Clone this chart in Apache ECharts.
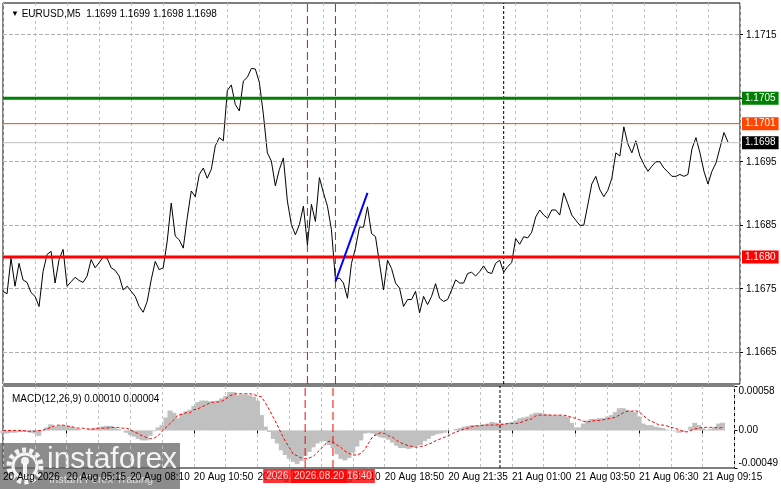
<!DOCTYPE html>
<html lang="en">
<head>
<meta charset="UTF-8"/>
<title>EURUSD,M5</title>
<script src="https://cdn.jsdelivr.net/npm/echarts@6/dist/echarts.min.js"></script>
<style>
    html, body {margin: 0; padding: 0; background: #fff;}
    #chart {width: 781px; height: 489px;}
</style>
</head>
<body>
<div id="chart"></div>
<script type="text/javascript">
// 10-minute samples of the M5 close line (k = 0 .. 181)
var priceClose = [
    1.16746, 1.16742, 1.16798, 1.16754, 1.16790, 1.16764, 1.16760, 1.16744, 1.16738, 1.16722,
    1.16777, 1.16804, 1.16809, 1.16759, 1.16796, 1.16812, 1.16754, 1.16761, 1.16768, 1.16763,
    1.16760, 1.16770, 1.16796, 1.16783, 1.16791, 1.16800, 1.16798, 1.16783, 1.16779, 1.16770,
    1.16748, 1.16754, 1.16746, 1.16738, 1.16722, 1.16713, 1.16730, 1.16764, 1.16793, 1.16780,
    1.16783, 1.16825, 1.16885, 1.16833, 1.16827, 1.16814, 1.16862, 1.16904, 1.16895, 1.16930,
    1.16940, 1.16924, 1.16938, 1.16975, 1.16988, 1.16983, 1.17062, 1.17071, 1.17040, 1.17030,
    1.17077, 1.17083, 1.17097, 1.17096, 1.17075, 1.17025, 1.16964, 1.16951, 1.16912, 1.16938,
    1.16956, 1.16888, 1.16851, 1.16835, 1.16851, 1.16880, 1.16819, 1.16883, 1.16856, 1.16925,
    1.16901, 1.16880, 1.16843, 1.16764, 1.16767, 1.16759, 1.16735, 1.16790, 1.16814, 1.16847,
    1.16847, 1.16879, 1.16837, 1.16832, 1.16790, 1.16748, 1.16795, 1.16782, 1.16759, 1.16751,
    1.16722, 1.16733, 1.16733, 1.16746, 1.16712, 1.16738, 1.16725, 1.16738, 1.16758, 1.16735,
    1.16730, 1.16733, 1.16748, 1.16764, 1.16759, 1.16759, 1.16774, 1.16776, 1.16770, 1.16777,
    1.16786, 1.16776, 1.16774, 1.16790, 1.16795, 1.16776, 1.16785, 1.16791, 1.16829, 1.16820,
    1.16832, 1.16830, 1.16839, 1.16863, 1.16874, 1.16866, 1.16861, 1.16874, 1.16874, 1.16866,
    1.16901, 1.16884, 1.16866, 1.16858, 1.16850, 1.16850, 1.16882, 1.16915, 1.16927, 1.16906,
    1.16895, 1.16905, 1.16924, 1.16964, 1.16959, 1.17005, 1.16978, 1.16964, 1.16983, 1.16959,
    1.16946, 1.16935, 1.16943, 1.16950, 1.16950, 1.16940, 1.16934, 1.16927, 1.16927, 1.16930,
    1.16927, 1.16930, 1.16970, 1.16988, 1.16964, 1.16935, 1.16915, 1.16935, 1.16948, 1.16972,
    1.16996, 1.16981
];

// MACD(12,26,9) main histogram and signal, in units of 0.00001
var macdHist = [
    -4, -4, -3, -3, -2, -2, -2, -3, -4, -7,
    0, 4, 8, 5, 6, 7, 6, 5, 3, 2,
    0, 0, 2, 3, 4, 5, 6, 6, 4, 2,
    0, -3, -6, -8, -11, -13, -13, -7, -1, 4,
    7, 17, 26, 23, 16, 22, 25, 27, 32, 37,
    39, 39, 38, 38, 39, 42, 45, 50, 50, 46,
    47, 47, 46, 44, 39, 20, 5, -2, -11, -17,
    -26, -32, -37, -41, -44, -40, -33, -28, -22, -17,
    -14, -14, -19, -23, -31, -37, -39, -36, -29, -21,
    -13, -4, -3, -4, -7, -9, -10, -12, -16, -20,
    -23, -23, -24, -22, -20, -19, -14, -11, -7, -5,
    -4, -3, -1, 0, 2, 3, 5, 6, 7, 7,
    7, 8, 9, 11, 10, 9, 9, 10, 11, 13,
    16, 17, 18, 21, 23, 23, 22, 21, 20, 20,
    20, 19, 18, 10, 4, 4, 9, 13, 15, 15,
    16, 16, 18, 20, 24, 29, 29, 27, 25, 24,
    18, 9, 7, 7, 5, 4, 3, 1, 0, -1,
    -3, -2, 0, 5, 10, 7, 3, 1, 2, 4,
    9, 10
];
var macdSignal = [
    0, 0, 0, 0, 0, 0, -1, -1, -1, 0,
    0, 2, 4, 6, 7, 7, 6, 5, 4, 3,
    3, 2, 2, 2, 3, 3, 3, 4, 4, 4,
    3, 3, 1, -2, -4, -7, -9, -11, -10, -7,
    -1, 4, 9, 14, 20, 21, 23, 23, 27, 28,
    31, 33, 36, 37, 37, 38, 41, 45, 47, 48,
    48, 48, 48, 47, 45, 44, 36, 27, 17, 7,
    -4, -14, -22, -31, -33, -36, -37, -36, -34, -29,
    -24, -18, -14, -15, -19, -22, -27, -30, -32, -32,
    -30, -25, -16, -8, -5, -3, -4, -7, -9, -13,
    -16, -18, -20, -21, -22, -21, -20, -18, -16, -13,
    -11, -9, -7, -4, -2, 0, 2, 3, 5, 6,
    6, 7, 7, 7, 7, 8, 8, 9, 9, 9,
    10, 12, 14, 15, 19, 20, 20, 20, 20, 20,
    20, 20, 19, 17, 16, 14, 12, 11, 12, 13,
    13, 14, 15, 16, 17, 20, 23, 25, 25, 26,
    24, 20, 15, 12, 10, 7, 7, 6, 4, 3,
    1, -1, -2, 0, 2, 3, 4, 4, 4, 4,
    3, 4
];

var timeLabels = ['20 Aug 2026', '20 Aug 05:15', '20 Aug 08:10', '20 Aug 10:50', '20 Aug 13:30', '20 Aug 16:10',
    '20 Aug 18:50', '20 Aug 21:35', '21 Aug 01:00', '21 Aug 03:50', '21 Aug 06:30', '21 Aug 09:15'];
var priceTicks = [1.1665, 1.1675, 1.1685, 1.1695, 1.1705, 1.1715];
var priceLabels = [1.1665, 1.1675, 1.1685, 1.1695, 1.1715];   // 1.1705 sits under the green tag
var macdLabels = [-0.00049, 0, 0.00058];
var priceMin = 1.1660, priceMax = 1.1720;
var macdMin = -0.00049, macdMax = 0.00058;

// horizontal levels and their tags
var levelValues = [1.1698, 1.1701, 1.1705, 1.1680];
var levelColors = ['#C0C0C0', '#FF4500', '#008000', '#FF0000'];
var levelTagColors = ['#000000', '#FF4500', '#008000', '#FF0000'];
var levelWidths = [1, 1, 3, 3];

// vertical lines (sample index) and the trend line
var redLines = [76, 83];
var redLineTags = ['2026.08.20 15:30', '2026.08.20 16:40'];
var separatorLine = 125;
var trendStart = [83, 1.16761];
var trendEnd = [91, 1.16901];

var barCount = 185;
var labelStep = 16;
var gridStep = 8;

var FONT = '"Liberation Sans", Arial, sans-serif';
var cats = [];
for (var i = 0; i < barCount; i++) cats.push(String(i));
var unit = 0.00001;
var histData = macdHist.map(function (v) { return +(v * unit).toFixed(5); });
var sigData = macdSignal.map(function (v) { return +(v * unit).toFixed(5); });
var lastK = barCount - 1;

var myChart = echarts.init(document.getElementById('chart'));

var xCommon = function (idx, showLabel) {
    return {
        type: 'category',
        gridIndex: idx,
        data: cats,
        boundaryGap: false,
        axisLine: {show: false},
        axisTick: {
            show: showLabel,
            length: 3,
            interval: function (i) { return i % labelStep === 0; },
            lineStyle: {color: '#000'}
        },
        axisLabel: {
            show: showLabel,
            interval: function (i) { return i % labelStep === 0; },
            formatter: function (v, i) { return timeLabels[i / labelStep] || ''; },
            align: 'left',
            margin: 4,
            color: '#000',
            fontSize: 10,
            fontFamily: FONT
        },
        splitLine: {
            show: true,
            interval: function (i) { return i % gridStep === 0; },
            lineStyle: {color: '#C0C0C0', type: [3, 3], width: 1}
        }
    };
};

// simple straight line series between two data points
function segment(name, grid, data, lineStyle, z, extra) {
    var s = {
        name: name, type: 'line', xAxisIndex: grid, yAxisIndex: grid,
        data: data, symbol: 'none', silent: true, z: z,
        lineStyle: lineStyle
    };
    for (var key in extra) s[key] = extra[key];
    return s;
}

var series = [];

// vertical markers in both windows
redLines.forEach(function (k) {
    series.push(segment('vline', 0, [[k, priceMin], [k, priceMax]], {color: '#FF0000', type: [8, 4], width: 1}, 2));
    series.push(segment('vline', 1, [[k, macdMin], [k, macdMax]], {color: '#FF0000', type: [8, 4], width: 1}, 4));
});
series.push(segment('sep', 0, [[separatorLine, priceMin], [separatorLine, priceMax]], {color: '#000', type: [3, 2], width: 1}, 2));
series.push(segment('sep', 1, [[separatorLine, macdMin], [separatorLine, macdMax]], {color: '#000', type: [3, 2], width: 1}, 4));

series.push({
    name: 'EURUSD', type: 'line', xAxisIndex: 0, yAxisIndex: 0,
    data: priceClose, symbol: 'none', z: 3, silent: true,
    lineStyle: {color: '#000', width: 1}
});

// price levels with their tags on the right
levelValues.forEach(function (v, i) {
    series.push(segment('level', 0, [[0, v], [lastK, v]],
        {color: levelColors[i], width: levelWidths[i]}, 4 + i, {
            endLabel: {
                show: true,
                distance: 2,
                formatter: v.toFixed(4),
                color: '#fff',
                backgroundColor: levelTagColors[i],
                padding: [2, 3, 1, 3],
                fontSize: 10,
                fontFamily: FONT
            }
        }));
});

series.push(segment('trend', 0, [trendStart, trendEnd], {color: '#0000FF', width: 2}, 9));

series.push({
    name: 'MACD', type: 'bar', xAxisIndex: 1, yAxisIndex: 1,
    data: histData, barWidth: 5, z: 2, silent: true,
    itemStyle: {color: '#C0C0C0'}
});
series.push({
    name: 'Signal', type: 'line', xAxisIndex: 1, yAxisIndex: 1,
    data: sigData, symbol: 'none', z: 3, silent: true,
    lineStyle: {color: '#FF0000', width: 1, type: [3, 2]}
});

// date tags of the red markers under the MACD window
redLines.forEach(function (k, i) {
    series.push({
        name: 'tag', type: 'scatter', xAxisIndex: 1, yAxisIndex: 1,
        data: [[k, macdMin]], symbolSize: 0, silent: true, z: 10 + i,
        label: {
            show: true,
            position: 'bottom',
            distance: 1,
            formatter: redLineTags[i],
            color: '#fff',
            backgroundColor: '#FF0000',
            padding: [2, 3, 2, 3],
            fontSize: 10,
            fontFamily: FONT
        }
    });
});

var option = {
    animation: false,
    backgroundColor: '#fff',
    title: [
        {
            left: 6, top: 4,
            text: '{a|▼} EURUSD,M5  1.1699 1.1699 1.1698 1.1698',
            textStyle: {fontSize: 10, fontWeight: 'normal', color: '#000', fontFamily: FONT,
                rich: {a: {fontSize: 8, color: '#000'}}}
        },
        {
            left: 7, top: 389,
            text: 'MACD(12,26,9) ' + histData[histData.length - 1].toFixed(5) + ' ' + sigData[sigData.length - 1].toFixed(5),
            textStyle: {fontSize: 10, fontWeight: 'normal', color: '#000', fontFamily: FONT}
        }
    ],
    grid: [
        {left: 3, right: 41, top: 3, height: 381, show: true, borderColor: '#000', borderWidth: 1},
        {left: 3, right: 41, top: 386, height: 82, show: true, borderColor: '#000', borderWidth: 1}
    ],
    xAxis: [xCommon(0, false), xCommon(1, true)],
    yAxis: [
        {
            type: 'value', gridIndex: 0, position: 'right',
            min: priceMin, max: priceMax,
            axisLine: {show: false},
            splitLine: {show: true, lineStyle: {color: '#B0B0B0', type: 'dashed', width: 1}},
            axisTick: {show: true, length: 3, customValues: priceTicks, lineStyle: {color: '#000'}},
            axisLabel: {
                customValues: priceLabels,
                formatter: function (v) { return v.toFixed(4); },
                color: '#000', fontSize: 10, margin: 6, fontFamily: FONT
            }
        },
        {
            type: 'value', gridIndex: 1, position: 'right',
            min: macdMin, max: macdMax,
            axisLine: {show: false},
            splitLine: {show: false},
            axisTick: {show: true, length: 3, customValues: macdLabels, lineStyle: {color: '#000'}},
            axisLabel: {
                customValues: macdLabels,
                formatter: function (v) { return Math.abs(v) < 1e-9 ? '0.00' : v.toFixed(5); },
                verticalAlignMinLabel: 'bottom',
                verticalAlignMaxLabel: 'top',
                color: '#000', fontSize: 10, margin: 4, fontFamily: FONT
            }
        }
    ],
    series: series,
    graphic: [
        {
            type: 'group', left: 0, top: 443, z: 100, silent: true,
            children: [
                {type: 'rect', shape: {x: 0, y: 0, width: 180, height: 46}, style: {fill: 'rgba(95,95,95,0.72)'}},
                {type: 'circle', shape: {cx: 25, cy: 23, r: 16},
                    style: {fill: 'none', stroke: 'rgba(255,255,255,0.9)', lineWidth: 5, lineDash: [4, 3.2]}},
                {type: 'circle', shape: {cx: 25, cy: 23, r: 12},
                    style: {fill: 'none', stroke: 'rgba(255,255,255,0.9)', lineWidth: 3}},
                {type: 'circle', shape: {cx: 25, cy: 18, r: 4}, style: {fill: 'rgba(255,255,255,0.9)'}},
                {type: 'rect', shape: {x: 23, y: 20, width: 4, height: 13}, style: {fill: 'rgba(255,255,255,0.9)'}},
                {type: 'text', x: 47, y: 2,
                    style: {text: 'instaforex', fill: 'rgba(255,255,255,0.9)', font: '30px "Liberation Sans", Arial, sans-serif'}},
                {type: 'text', x: 49, y: 31,
                    style: {text: 'Instant Forex Trading', fill: 'rgba(235,235,235,0.85)', font: '11px "Liberation Sans", Arial, sans-serif'}}
            ]
        }
    ]
};
myChart.setOption(option);
</script>
</body>
</html>
